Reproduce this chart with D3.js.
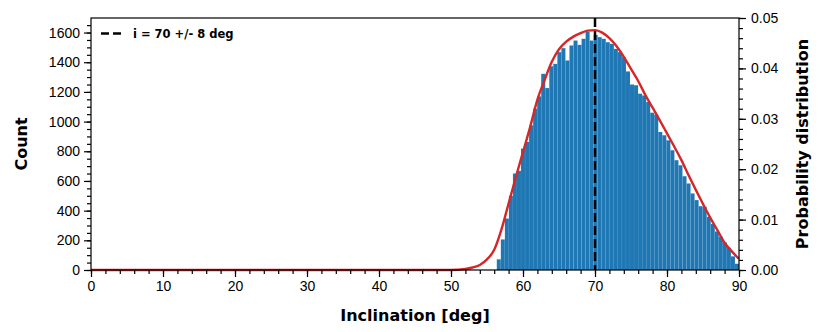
<!DOCTYPE html>
<html>
<head>
<meta charset="utf-8">
<script src="https://cdn.jsdelivr.net/npm/d3@7"></script>
<style>
  body { margin: 0; background: #fff; }
  svg { display: block; font-family: 'DejaVu Sans', sans-serif; }
</style>
</head>
<body>
<svg class="chart"></svg>
<script>
// Histogram of inclinations (60 equal bins between binStart and binEnd)
let binStart = 56.36, binEnd = 90;
let counts = [72, 206, 347, 500, 650, 668, 818, 863, 975, 1087,
  1170, 1322, 1226, 1373, 1389, 1468, 1495, 1412, 1513, 1546,
  1517, 1558, 1605, 1546, 1584, 1569, 1558, 1535, 1524, 1490,
  1468, 1434, 1338, 1250, 1245, 1188, 1176, 1132, 1060, 1047,
  930, 908, 874, 807, 740, 706, 632, 583, 516, 471,
  430, 426, 358, 310, 260, 225, 185, 150, 92, 42];

// Probability distribution (right axis)
let curveDeg = [0, 45, 50, 52, 53, 54, 55, 56, 57, 58, 59, 60, 61, 62, 63, 64, 65, 66, 67, 68, 69,
  70, 71, 72, 73, 74, 75, 76, 77, 78, 79, 80, 81, 82, 83, 84, 85, 86, 87, 88, 89, 90];
let curveProb = [0, 0, 0, 0.0002, 0.0005, 0.0010, 0.0021, 0.0040, 0.0080, 0.0132, 0.0184, 0.0234,
  0.0284, 0.0338, 0.0377, 0.0413, 0.0438, 0.0453, 0.0463, 0.0470, 0.0475,
  0.0476, 0.0471, 0.0460, 0.0444, 0.0423, 0.0399, 0.0375, 0.0347, 0.0322, 0.0297,
  0.0271, 0.0245, 0.0218, 0.0188, 0.0159, 0.0131, 0.0104, 0.0079, 0.0054, 0.0037, 0.0022];

let meanIncl = 70;
let legendText = 'i = 70 +/- 8 deg';

let xTicks = d3.range(0, 91, 10);
let countTicks = d3.range(0, 1601, 200);
let probTicks = [0, 0.01, 0.02, 0.03, 0.04, 0.05];

let margin = {top: 18, right: 91, bottom: 62, left: 91},
  width = 830 - margin.left - margin.right,
  height = 332 - margin.top - margin.bottom;

let svg = d3.select('.chart')
  .attr('width', 830)
  .attr('height', 332)
  .append('g')
  .attr('transform', 'translate(' + margin.left + ',' + margin.top + ')');

let x = d3.scaleLinear().domain([0, 90]).range([0, width]);
let y = d3.scaleLinear().domain([0, 1698]).range([height, 0]);
let y2 = d3.scaleLinear().domain([0, 0.05]).range([height, 0]);

// Bars
let binW = (binEnd - binStart) / counts.length;
svg.selectAll('.bar')
  .data(counts)
  .enter().append('rect')
  .attr('class', 'bar')
  .attr('x', (d, i) => x(binStart + i * binW))
  .attr('width', x(binW) - x(0))
  .attr('y', (d) => y(d))
  .attr('height', (d) => height - y(d))
  .attr('fill', '#1f77b4')
  .attr('stroke', 'rgba(255,255,255,0.12)')
  .attr('stroke-width', 0.4);

// Red distribution curve
let line = d3.line()
  .x((d, i) => x(curveDeg[i]))
  .y((d) => y2(d))
  .curve(d3.curveMonotoneX);

svg.append('path')
  .datum(curveProb)
  .attr('d', line)
  .attr('fill', 'none')
  .attr('stroke', '#d62728')
  .attr('stroke-width', 2.4);

// Mean inclination
svg.append('line')
  .attr('x1', x(meanIncl)).attr('x2', x(meanIncl))
  .attr('y1', 0).attr('y2', height)
  .attr('stroke', '#000')
  .attr('stroke-width', 2.5)
  .attr('stroke-dasharray', '9,4');

// Axes: major + minor ticks
let styleAxis = function (g) {
  g.select('.domain').remove();
  g.selectAll('.tick line').attr('stroke', '#000').attr('stroke-width', 1.2);
  g.selectAll('.tick text').attr('font-size', 14).attr('fill', '#000');
};

svg.append('g')
  .attr('transform', 'translate(0,' + height + ')')
  .call(d3.axisBottom(x).tickValues(d3.range(0, 91, 2)).tickSize(4).tickFormat(''))
  .call(styleAxis);
svg.append('g')
  .attr('transform', 'translate(0,' + height + ')')
  .call(d3.axisBottom(x).tickValues(xTicks).tickSize(7).tickPadding(4).tickFormat(d3.format('d')))
  .call(styleAxis);

svg.append('g')
  .call(d3.axisLeft(y).tickValues(d3.range(0, 1698, 50)).tickSize(4).tickFormat(''))
  .call(styleAxis);
svg.append('g')
  .call(d3.axisLeft(y).tickValues(countTicks).tickSize(7).tickPadding(4).tickFormat(d3.format('d')))
  .call(styleAxis);

svg.append('g')
  .attr('transform', 'translate(' + width + ',0)')
  .call(d3.axisRight(y2).tickValues(d3.range(0, 0.0501, 0.002)).tickSize(4).tickFormat(''))
  .call(styleAxis);
svg.append('g')
  .attr('transform', 'translate(' + width + ',0)')
  .call(d3.axisRight(y2).tickValues(probTicks).tickSize(7).tickPadding(5).tickFormat(d3.format('.2f')))
  .call(styleAxis);

// Frame
svg.append('rect')
  .attr('width', width)
  .attr('height', height)
  .attr('fill', 'none')
  .attr('stroke', '#000')
  .attr('stroke-width', 1.2);

// Axis labels
svg.append('text')
  .attr('x', width / 2)
  .attr('y', height + 51)
  .attr('text-anchor', 'middle')
  .attr('font-size', 16)
  .attr('font-weight', 'bold')
  .text('Inclination [deg]');

svg.append('text')
  .attr('transform', 'translate(' + (-64) + ',' + (height / 2) + ') rotate(-90)')
  .attr('text-anchor', 'middle')
  .attr('font-size', 16)
  .attr('font-weight', 'bold')
  .text('Count');

svg.append('text')
  .attr('transform', 'translate(' + (width + 69) + ',' + (height / 2) + ') rotate(-90)')
  .attr('text-anchor', 'middle')
  .attr('font-size', 16)
  .attr('font-weight', 'bold')
  .text('Probability distribution');

// Legend
let legend = svg.append('g').attr('transform', 'translate(10,15.5)');
legend.append('line')
  .attr('x1', 0).attr('x2', 20)
  .attr('stroke', '#000')
  .attr('stroke-width', 2.5)
  .attr('stroke-dasharray', '8,4');
legend.append('text')
  .attr('x', 32)
  .attr('y', 4)
  .attr('font-size', 11.5)
  .attr('font-weight', 'bold')
  .text(legendText);
</script>
</body>
</html>
